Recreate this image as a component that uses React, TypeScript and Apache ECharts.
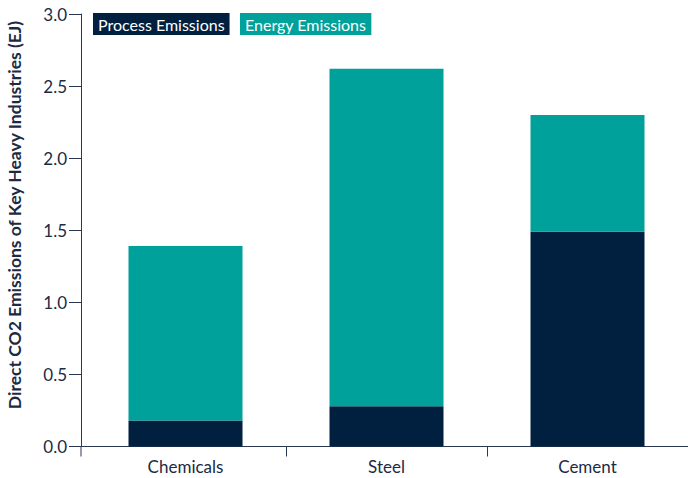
import React, { useEffect, useRef } from "react";
import * as echarts from "echarts";

const categories = ["Chemicals", "Steel", "Cement"];
const processEmissions = [0.18, 0.28, 1.49];
const energyEmissions = [1.21, 2.34, 0.81];
const seriesNames = ["Process Emissions", "Energy Emissions"];
const yAxisTitle = "Direct CO2 Emissions of Key Heavy Industries (EJ)";

const NAVY = "#012040";
const TEAL = "#00A19A";
const TEXT = "#1c2a44";
const AXIS = "#2a3850";
const FONT = "Lato, 'Open Sans', sans-serif";

export default function App() {
  const ref = useRef<HTMLDivElement>(null);
  useEffect(() => {
    document.body.style.margin = "0";
    document.documentElement.style.overflow = "hidden";
    const chart = echarts.init(ref.current!, null, { renderer: "svg" });
    chart.setOption({
      animation: false,
      textStyle: { fontFamily: FONT },
      grid: { left: 85, right: 0, top: 14, bottom: 31.5, containLabel: false },
      xAxis: {
        type: "category",
        data: categories,
        axisLine: { lineStyle: { color: AXIS, width: 1 } },
        axisTick: {
          show: true,
          interval: (i: number) => i > 0,
          length: 10,
          lineStyle: { color: AXIS },
        },
        axisLabel: { color: TEXT, fontSize: 17, margin: 11, fontFamily: FONT },
      },
      yAxis: {
        type: "value",
        min: 0,
        max: 3,
        interval: 0.5,
        offset: 4,
        axisLine: { show: true, lineStyle: { color: AXIS } },
        axisTick: { show: true, length: 12, lineStyle: { color: AXIS } },
        axisLabel: {
          color: TEXT,
          fontSize: 17,
          margin: 14,
          fontFamily: FONT,
          formatter: (v: number) => v.toFixed(1),
        },
        splitLine: { show: false },
      },
      series: [
        {
          name: seriesNames[0],
          type: "bar",
          stack: "total",
          data: processEmissions,
          barWidth: 114,
          itemStyle: { color: NAVY },
        },
        {
          name: seriesNames[1],
          type: "bar",
          stack: "total",
          data: energyEmissions,
          barWidth: 114,
          itemStyle: { color: TEAL },
        },
      ],
      graphic: [
        {
          type: "line",
          shape: { x1: 81, y1: 446.5, x2: 85, y2: 446.5 },
          style: { stroke: AXIS, lineWidth: 1 },
        },
        {
          type: "line",
          shape: { x1: 81, y1: 446.5, x2: 81, y2: 456.5 },
          style: { stroke: AXIS, lineWidth: 1 },
        },
        {
          type: "text",
          x: 93,
          y: 13,
          style: {
            text: seriesNames[0],
            fill: "#ffffff",
            fontSize: 16,
            fontFamily: FONT,
            backgroundColor: NAVY,
            padding: [3, 5, 3, 5],
          },
        },
        {
          type: "text",
          x: 240,
          y: 13,
          style: {
            text: seriesNames[1],
            fill: "#ffffff",
            fontSize: 16,
            fontFamily: FONT,
            backgroundColor: TEAL,
            padding: [3, 5, 3, 5],
          },
        },
        {
          type: "text",
          x: 14,
          y: 215,
          rotation: Math.PI / 2,
          style: {
            text: yAxisTitle,
            fill: TEXT,
            fontSize: 17.5,
            fontWeight: "bold",
            fontFamily: FONT,
            align: "center",
            verticalAlign: "middle",
          },
        },
      ],
    });
    return () => chart.dispose();
  }, []);
  return <div ref={ref} style={{ width: 688, height: 478 }} />;
}
